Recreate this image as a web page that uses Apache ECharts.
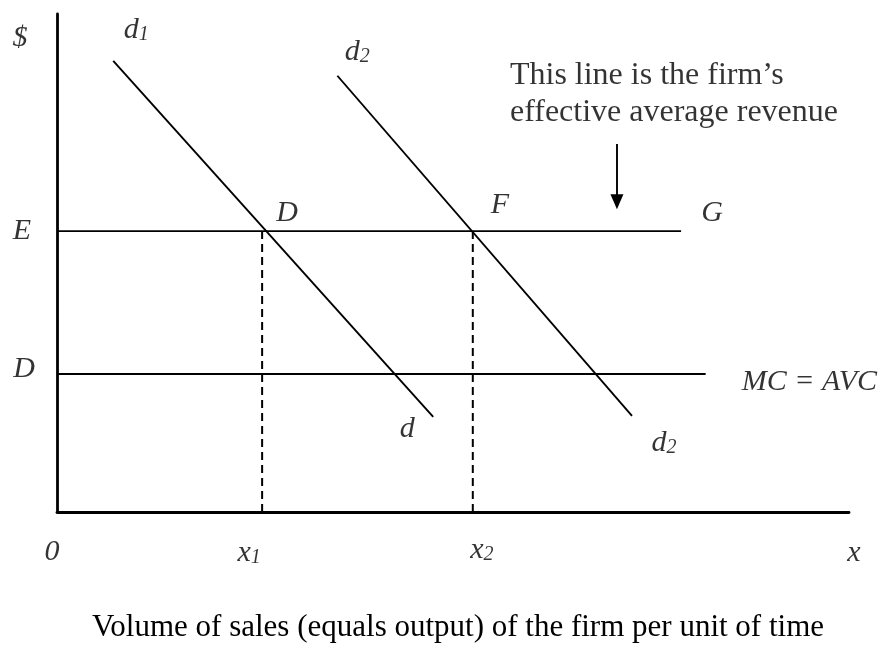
<!DOCTYPE html>
<html><head><meta charset="utf-8">
<script src="https://cdn.jsdelivr.net/npm/echarts@6/dist/echarts.min.js"></script>
<style>html,body{margin:0;padding:0;background:#fff}#c{width:888px;height:648px}</style>
</head><body><div id="c"></div>
<script>
// ---- chart values (economic units) ----
const xRange = [0, 100];
const yRange = [0, 100];
const x1 = 25.9;
const x2 = 52.5;
const priceE = 56.4;
const costMC = 27.7;
const lineEG = [[0, priceE], [78.8, priceE]];
const lineMC = [[0, costMC], [81.9, costMC]];
const demandD1 = [[7.1, 90.6], [47.5, 19.1]];
const demandD2 = [[35.4, 87.6], [72.6, 19.3]];
const dropX1 = [[x1, 0], [x1, priceE]];
const dropX2 = [[x2, 0], [x2, priceE]];
const arrowPath = [[70.7, 73.9], [70.7, 62.3]];
const annotationLines = ["This line is the firm\u2019s", "effective average revenue"];
const xAxisTitle = "Volume of sales (equals output) of the firm per unit of time";

// ---- styling / layout ----
const FONT = "'Liberation Serif','Times New Roman',serif";
const rich = {
  i: { fontFamily: FONT, fontStyle: 'italic', fontSize: 30, color: '#000' },
  s: { fontFamily: FONT, fontStyle: 'italic', fontSize: 20, color: '#000', verticalAlign: 'bottom', lineHeight: 20 }
};
const labels = [
  { at: [xRange[0], yRange[1]], text: '{i|$}', off: [-37, 24] },
  { at: demandD1[0], text: '{i|d}{s|1}', off: [23, -31] },
  { at: demandD2[0], text: '{i|d}{s|2}', off: [20, -24] },
  { at: [x1, priceE], text: '{i|D}', off: [25, -18] },
  { at: [x2, priceE], text: '{i|F}', off: [27, -26] },
  { at: lineEG[1], text: '{i|G}', off: [31, -18] },
  { at: lineEG[0], text: '{i|E}', off: [-35, 0] },
  { at: lineMC[0], text: '{i|D}', off: [-33, -5] },
  { at: lineMC[1], text: '{i|MC = AVC}', off: [36, 8], align: 'left' },
  { at: demandD1[1], text: '{i|d}', off: [-26, 12] },
  { at: demandD2[1], text: '{i|d}{s|2}', off: [32, 27] },
  { at: [xRange[0], yRange[0]], text: '{i|0}', off: [-5, 40] },
  { at: [x1, yRange[0]], text: '{i|x}{s|1}', off: [-13, 41] },
  { at: [x2, yRange[0]], text: '{i|x}{s|2}', off: [9, 38] },
  { at: [xRange[1], yRange[0]], text: '{i|x}', off: [5, 41] }
];

function seg(name, data, extra) {
  return Object.assign({
    name, type: 'line', data, symbol: 'none', silent: true,
    lineStyle: { color: '#000', width: 1.9 }
  }, extra || {});
}

const chart = echarts.init(document.getElementById('c'), null, { renderer: 'canvas' });
chart.setOption({
  animation: false,
  backgroundColor: '#fff',
  grid: { left: 57, right: 39, top: 14, bottom: 132, containLabel: false },
  xAxis: {
    type: 'value', min: xRange[0], max: xRange[1],
    axisLine: { show: true, lineStyle: { color: '#000', width: 2.8 } },
    axisTick: { show: false }, axisLabel: { show: false }, splitLine: { show: false },
    name: xAxisTitle, nameLocation: 'middle', nameGap: 100,
    nameTextStyle: { fontFamily: FONT, fontSize: 31, color: '#000', padding: [0, 0, 0, 10] }
  },
  yAxis: {
    type: 'value', min: yRange[0], max: yRange[1],
    axisLine: { show: true, lineStyle: { color: '#000', width: 2.8 } },
    axisTick: { show: false }, axisLabel: { show: false }, splitLine: { show: false }
  },
  series: [
    seg('E-G', lineEG),
    seg('MC=AVC', lineMC),
    seg('d1', demandD1),
    seg('d2', demandD2),
    seg('x1 drop', dropX1, { lineStyle: { color: '#000', width: 2, type: [8, 5] } }),
    seg('x2 drop', dropX2, { lineStyle: { color: '#000', width: 2, type: [8, 5] } }),
    {
      name: 'arrow', type: 'line', data: [], symbol: 'none',
      markLine: {
        silent: true, animation: false,
        symbol: ['none', 'triangle'], symbolSize: [13, 15],
        lineStyle: { color: '#000', width: 1.9, type: 'solid' },
        itemStyle: { color: '#000' },
        label: { show: false },
        data: [[{ coord: arrowPath[0] }, { coord: arrowPath[1] }]]
      }
    },
    {
      name: 'labels', type: 'scatter', symbolSize: 0, silent: true, clip: false,
      data: labels.map(l => ({
        value: l.at,
        label: {
          show: true, position: 'inside', formatter: l.text, rich,
          offset: l.off, align: l.align || 'center', verticalAlign: 'middle'
        }
      })).concat([{
        value: arrowPath[0],
        label: {
          show: true, position: 'inside', formatter: annotationLines.join('\n'),
          fontFamily: FONT, fontSize: 32, lineHeight: 37, color: '#000',
          align: 'left', verticalAlign: 'middle', offset: [-107, -50]
        }
      }])
    }
  ]
});
</script></body></html>
